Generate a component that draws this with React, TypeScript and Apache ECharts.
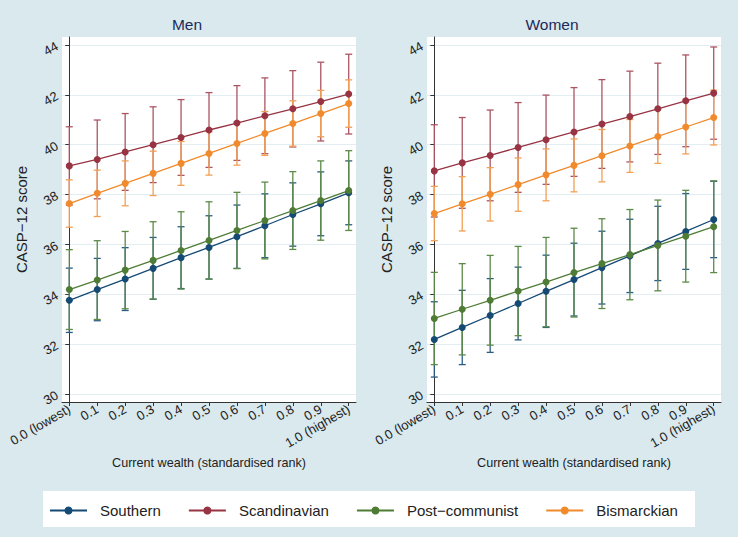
import React, { useEffect, useRef } from "react";
import * as echarts from "echarts";

const xValues = [0, 0.1, 0.2, 0.3, 0.4, 0.5, 0.6, 0.7, 0.8, 0.9, 1.0];
const xLabels = ["0.0 (lowest)", "0.1", "0.2", "0.3", "0.4", "0.5", "0.6", "0.7", "0.8", "0.9", "1.0 (highest)"];
const yTicks = [30, 32, 34, 36, 38, 40, 42, 44];
const groups = ["Southern", "Scandinavian", "Post\u2212communist", "Bismarckian"];
const panelTitles = ["Men", "Women"];

// Men
const menSouthern = [33.76, 34.19, 34.61, 35.04, 35.47, 35.88, 36.31, 36.75, 37.2, 37.63, 38.07];
const menSouthernLo = [32.47, 32.94, 33.35, 33.8, 34.23, 34.61, 35.04, 35.47, 35.93, 36.35, 36.79];
const menSouthernHi = [35.05, 35.44, 35.87, 36.28, 36.71, 37.15, 37.58, 38.03, 38.47, 38.91, 39.35];
const menScandinavian = [39.15, 39.41, 39.71, 40.0, 40.29, 40.59, 40.87, 41.16, 41.44, 41.73, 42.03];
const menScandinavianLo = [37.58, 37.83, 38.17, 38.48, 38.77, 39.09, 39.37, 39.64, 39.91, 40.15, 40.43];
const menScandinavianHi = [40.72, 40.99, 41.25, 41.52, 41.81, 42.09, 42.37, 42.68, 42.97, 43.31, 43.63];
const menPostCommunist = [34.19, 34.57, 34.97, 35.36, 35.76, 36.16, 36.56, 36.96, 37.36, 37.76, 38.16];
const menPostCommunistLo = [32.59, 32.99, 33.42, 33.81, 34.21, 34.61, 35.03, 35.42, 35.8, 36.17, 36.56];
const menPostCommunistHi = [35.79, 36.15, 36.52, 36.91, 37.31, 37.71, 38.09, 38.5, 38.92, 39.35, 39.76];
const menBismarckian = [37.64, 38.05, 38.45, 38.85, 39.25, 39.65, 40.05, 40.45, 40.85, 41.25, 41.65];
const menBismarckianLo = [36.69, 37.12, 37.55, 37.96, 38.37, 38.78, 39.18, 39.57, 39.94, 40.32, 40.7];
const menBismarckianHi = [38.59, 38.98, 39.35, 39.74, 40.13, 40.52, 40.92, 41.33, 41.76, 42.18, 42.6];

// Women
const womenSouthern = [32.19, 32.67, 33.15, 33.63, 34.12, 34.59, 35.07, 35.54, 36.04, 36.52, 37.0];
const womenSouthernLo = [30.68, 31.18, 31.67, 32.17, 32.67, 33.13, 33.61, 34.07, 34.55, 35.0, 35.47];
const womenSouthernHi = [33.7, 34.16, 34.63, 35.09, 35.57, 36.05, 36.53, 37.01, 37.53, 38.04, 38.53];
const womenScandinavian = [38.95, 39.27, 39.57, 39.89, 40.2, 40.51, 40.83, 41.13, 41.44, 41.76, 42.07];
const womenScandinavianLo = [37.1, 37.45, 37.75, 38.09, 38.41, 38.73, 39.05, 39.31, 39.61, 39.92, 40.22];
const womenScandinavianHi = [40.8, 41.09, 41.39, 41.69, 41.99, 42.29, 42.61, 42.95, 43.27, 43.6, 43.92];
const womenPostCommunist = [33.03, 33.4, 33.76, 34.13, 34.49, 34.87, 35.23, 35.59, 35.96, 36.33, 36.71];
const womenPostCommunistLo = [31.18, 31.57, 31.96, 32.34, 32.7, 33.09, 33.43, 33.78, 34.14, 34.49, 34.87];
const womenPostCommunistHi = [34.88, 35.23, 35.56, 35.92, 36.28, 36.65, 37.03, 37.4, 37.78, 38.17, 38.55];
const womenBismarckian = [37.24, 37.63, 38.01, 38.4, 38.79, 39.17, 39.56, 39.95, 40.33, 40.71, 41.09];
const womenBismarckianLo = [36.15, 36.54, 36.94, 37.33, 37.75, 38.11, 38.51, 38.89, 39.25, 39.63, 39.99];
const womenBismarckianHi = [38.33, 38.72, 39.08, 39.47, 39.83, 40.23, 40.61, 41.01, 41.41, 41.79, 42.19];

const colors = ["#144a74", "#973342", "#4e7c35", "#f08a2c"];
const barColors = ["#2b5d85", "#ab5562", "#5c8a47", "#f2a055"];

const panels = [
  {
    mean: [menSouthern, menScandinavian, menPostCommunist, menBismarckian],
    lo: [menSouthernLo, menScandinavianLo, menPostCommunistLo, menBismarckianLo],
    hi: [menSouthernHi, menScandinavianHi, menPostCommunistHi, menBismarckianHi],
  },
  {
    mean: [womenSouthern, womenScandinavian, womenPostCommunist, womenBismarckian],
    lo: [womenSouthernLo, womenScandinavianLo, womenPostCommunistLo, womenBismarckianLo],
    hi: [womenSouthernHi, womenScandinavianHi, womenPostCommunistHi, womenBismarckianHi],
  },
];

const FONT = "Liberation Sans, Arial, Helvetica, sans-serif";
const BG = "#d9e9ee";

export default function App() {
  const ref = useRef<HTMLDivElement>(null);

  useEffect(() => {
    if (!ref.current) return;
    const chart = echarts.init(ref.current, null, { renderer: "svg" });

    const gridLefts = [62, 427];
    const grids = gridLefts.map((l) => ({ left: l, top: 37, width: 294, height: 365, show: true, backgroundColor: "#ffffff", borderWidth: 0 }));

    const xAxes = gridLefts.map((_, i) => ({
      type: "value",
      gridIndex: i,
      min: -0.0261,
      max: 1.0261,
      axisLine: { show: true, onZero: false, lineStyle: { color: "#333", width: 1 } },
      axisTick: { show: true, length: 4, customValues: xValues, lineStyle: { color: "#333" } },
      axisLabel: {
        customValues: xValues,
        rotate: 30,
        margin: 6,
        fontSize: 13,
        fontFamily: FONT,
        color: "#222",
        formatter: (v: number) => {
          const idx = xValues.findIndex((x) => Math.abs(x - v) < 1e-6);
          return idx >= 0 ? xLabels[idx] : "";
        },
      },
      splitLine: { show: false },
      name: "Current wealth (standardised rank)",
      nameLocation: "middle",
      nameGap: 43,
      nameTextStyle: { fontSize: 12.6, fontFamily: FONT, color: "#222" },
    }));

    const yAxes = gridLefts.map((_, i) => ({
      type: "value",
      gridIndex: i,
      min: 29.68,
      max: 44.32,
      axisLine: { show: true, lineStyle: { color: "#333", width: 1 } },
      axisTick: { show: true, length: 4, customValues: yTicks, lineStyle: { color: "#333" } },
      axisLabel: { customValues: yTicks, rotate: 30, margin: 5, fontSize: 13, fontFamily: FONT, color: "#222" },
      splitLine: { show: true, lineStyle: { color: "#e3eef2", width: 1 } },
      name: "CASP\u221212 score",
      nameLocation: "middle",
      nameGap: 33,
      nameTextStyle: { fontSize: 15, fontFamily: FONT, color: "#222" },
    }));

    const series: any[] = [];
    panels.forEach((p, pi) => {
      groups.forEach((g, gi) => {
        const color = barColors[gi];
        series.push({
          type: "custom",
          name: g + " CI",
          xAxisIndex: pi,
          yAxisIndex: pi,
          z: 2,
          silent: true,
          encode: { x: 0, y: [1, 2] },
          data: xValues.map((x, k) => [x, p.lo[gi][k], p.hi[gi][k]]),
          renderItem: (params: any, api: any) => {
            const x = api.value(0);
            const a = api.coord([x, api.value(1)]);
            const b = api.coord([x, api.value(2)]);
            const hw = 3.5;
            const st = { stroke: color, lineWidth: 1.3, fill: "none" };
            return {
              type: "group",
              children: [
                { type: "line", shape: { x1: a[0], y1: a[1], x2: b[0], y2: b[1] }, style: st },
                { type: "line", shape: { x1: a[0] - hw, y1: a[1], x2: a[0] + hw, y2: a[1] }, style: st },
                { type: "line", shape: { x1: b[0] - hw, y1: b[1], x2: b[0] + hw, y2: b[1] }, style: st },
              ],
            };
          },
        });
      });
      groups.forEach((g, gi) => {
        series.push({
          type: "line",
          name: g,
          xAxisIndex: pi,
          yAxisIndex: pi,
          z: 3,
          data: xValues.map((x, k) => [x, p.mean[gi][k]]),
          symbol: "circle",
          symbolSize: 7,
          showSymbol: true,
          itemStyle: { color: colors[gi] },
          lineStyle: { color: colors[gi], width: 1.3 },
        });
      });
    });

    const option: any = {
      animation: false,
      backgroundColor: BG,
      textStyle: { fontFamily: FONT },
      grid: grids,
      xAxis: xAxes,
      yAxis: yAxes,
      series,
      legend: {
        data: groups,
        left: 49,
        top: 503,
        padding: 0,
        itemWidth: 37,
        itemHeight: 10,
        itemGap: 27,
        textStyle: { fontSize: 15, fontFamily: FONT, color: "#222", padding: [0, 0, 0, 8] },
        selectedMode: false,
      },
      graphic: [
        { type: "rect", shape: { x: 43, y: 491, width: 652, height: 36 }, style: { fill: "#ffffff" }, z: -1, silent: true },
        { type: "text", x: 187, y: 24, style: { text: panelTitles[0], fontSize: 15.5, fontFamily: FONT, fill: "#1c2b5a", textAlign: "center", textVerticalAlign: "middle" } },
        { type: "text", x: 552, y: 24, style: { text: panelTitles[1], fontSize: 15.5, fontFamily: FONT, fill: "#1c2b5a", textAlign: "center", textVerticalAlign: "middle" } },
      ],
    };

    chart.setOption(option);
    return () => chart.dispose();
  }, []);

  return <div ref={ref} style={{ position: "absolute", left: 0, top: 0, width: 738, height: 537 }} />;
}
